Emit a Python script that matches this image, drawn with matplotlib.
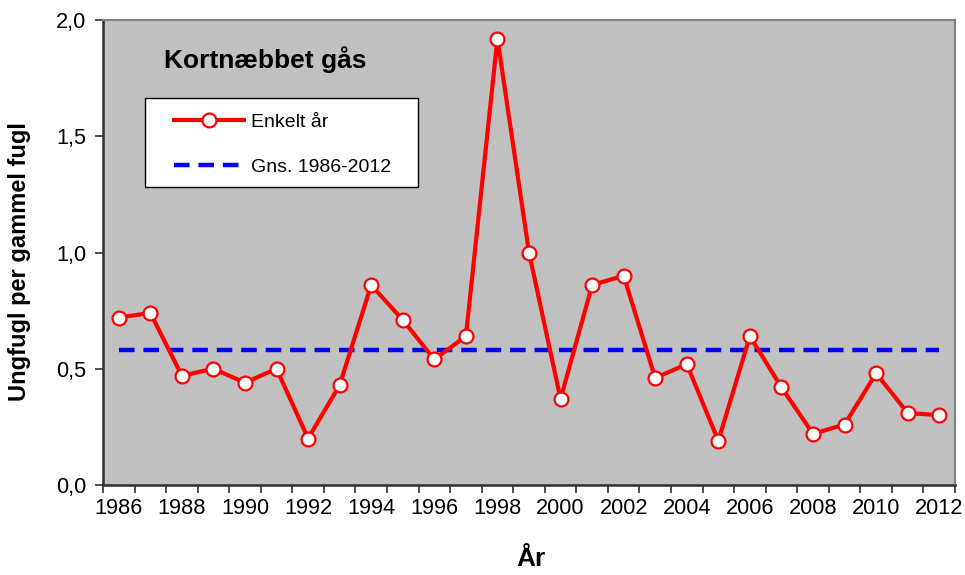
import matplotlib
matplotlib.use("Agg")
import matplotlib.pyplot as plt
from matplotlib.ticker import FixedLocator, FuncFormatter
from matplotlib.patches import Rectangle

years = list(range(1986, 2013))
values = [0.72, 0.74, 0.47, 0.50, 0.44, 0.50, 0.20, 0.43, 0.86, 0.71, 0.54, 0.64,
          1.92, 1.00, 0.37, 0.86, 0.90, 0.46, 0.52, 0.19, 0.64, 0.42, 0.22, 0.26,
          0.48, 0.31, 0.30]
mean_value = 0.58
xtick_labels = [str(y) for y in range(1986, 2013, 2)]
yticks = [0.0, 0.5, 1.0, 1.5, 2.0]

plt.rcParams['font.family'] = ['Liberation Sans', 'DejaVu Sans']

W, H = 965, 575
fig = plt.figure(figsize=(9.65, 5.75), dpi=100)
ax_l, ax_r, ax_t, ax_b = 103, 955, 20, 485
ax = fig.add_axes([ax_l/W, 1-ax_b/H, (ax_r-ax_l)/W, (ax_b-ax_t)/H])
ax.set_facecolor('#C0C0C0')

def axx(px):
    return (px - ax_l) / (ax_r - ax_l)

def axy(py):
    return (ax_b - py) / (ax_b - ax_t)

ax.plot(years, [mean_value]*len(years), color='#0000FF', lw=3.2,
        dashes=(3.5, 2.0), label='Gns. 1986-2012', zorder=2)
ax.plot(years, values, color='#FF0000', lw=3.0, marker='o', markersize=10,
        markerfacecolor='white', markeredgecolor='#FF0000', markeredgewidth=1.6,
        label='Enkelt år', zorder=3)

ax.set_xlim(1985.5, 2012.5)
ax.set_ylim(0, 2.0)

ax.xaxis.set_major_locator(FixedLocator(list(range(1986, 2013, 2))))
ax.set_xticklabels(xtick_labels)
ax.xaxis.set_minor_locator(FixedLocator([y - 0.5 for y in range(1986, 2014)]))
ax.tick_params(axis='x', which='major', length=0, labelsize=15.7, pad=9)
ax.tick_params(axis='x', which='minor', length=6, width=1.2, direction='out', color='#303030')

ax.yaxis.set_major_locator(FixedLocator(yticks))
ax.yaxis.set_major_formatter(FuncFormatter(lambda v, p: f"{v:.1f}".replace('.', ',')))
ax.tick_params(axis='y', length=6, width=1.2, direction='out', labelsize=15.7, pad=6, color='#303030')

for s in ['left', 'bottom']:
    ax.spines[s].set_color('#303030')
    ax.spines[s].set_linewidth(1.8)
for s in ['top', 'right']:
    ax.spines[s].set_color('#808080')
    ax.spines[s].set_linewidth(1.5)

ax.text(axx(164), axy(60), 'Kortnæbbet gås', transform=ax.transAxes,
        fontsize=19, fontweight='bold', va='center', ha='left')

# legend box
ax.add_patch(Rectangle((axx(145), axy(187)), axx(418)-axx(145), axy(98)-axy(187),
                       transform=ax.transAxes, facecolor='white', edgecolor='black',
                       linewidth=1.0, zorder=4))
handles, labels = ax.get_legend_handles_labels()
leg = ax.legend(handles[::-1], labels[::-1], loc='center left',
                bbox_to_anchor=(axx(174), axy(144.5)),
                fontsize=14, frameon=False, handlelength=3.6, handletextpad=0.35,
                labelspacing=1.41, borderpad=0, borderaxespad=0)
leg.set_zorder(5)

fig.text(20/W, 1-262/H, 'Ungfugl per gammel fugl', rotation=90,
         fontsize=17, fontweight='bold', ha='center', va='center')
fig.text(531/W, 4/H, 'År', fontsize=19, fontweight='bold',
         ha='center', va='bottom')

fig.savefig('out.png', dpi=100)
